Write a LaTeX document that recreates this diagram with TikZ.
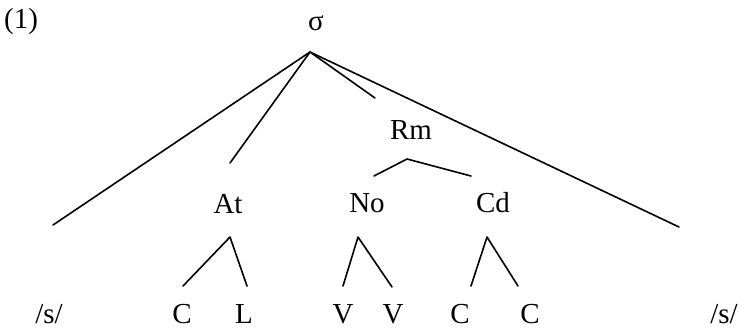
\documentclass[tikz,border=0pt]{standalone}
\usepackage{fontspec}
\setmainfont{Liberation Serif}
\begin{document}
\begin{tikzpicture}[x=1pt,y=-1pt,
  lbl/.style={inner sep=0pt,anchor=base,font=\fontsize{29}{32}\selectfont},
  br/.style={line width=1.6pt,line cap=round,line join=round}]
\useasboundingbox (0,0) rectangle (741,330);
% labels
\node[lbl] (num) at (21,28) {(1)};
\node[lbl] (sigma) at (316,30) {σ};
\node[lbl] (Rm) at (411,139) {Rm};
\node[lbl] (At) at (228,213) {At};
\node[lbl] (No) at (367,212) {No};
\node[lbl] (Cd) at (493,212) {Cd};
\node[lbl] (sL) at (49,323) {/s/};
\node[lbl] (C1) at (182,323) {C};
\node[lbl] (L) at (244,323) {L};
\node[lbl] (V1) at (343,323) {V};
\node[lbl] (V2) at (393,323) {V};
\node[lbl] (C2) at (460,323) {C};
\node[lbl] (C3) at (530,323) {C};
\node[lbl] (sR) at (724,323) {/s/};
% branch points
\coordinate (sa) at (310,52);
\coordinate (eL) at (53,225);
\coordinate (eAt) at (230,163);
\coordinate (eRm) at (375,98);
\coordinate (eR) at (679,227);
\coordinate (ra) at (407,159);
\coordinate (rNo) at (374,176);
\coordinate (rCd) at (471,176);
\coordinate (aa) at (230,237);
\coordinate (aC) at (183,286);
\coordinate (aL) at (247,286);
\coordinate (na) at (358,237);
\coordinate (nV1) at (343,286);
\coordinate (nV2) at (392,287);
\coordinate (ca) at (487,237);
\coordinate (cC1) at (471,286);
\coordinate (cC2) at (518,286);
% connectors
\draw[br] (sa) -- (eL);
\draw[br] (sa) -- (eAt);
\draw[br] (sa) -- (eRm);
\draw[br] (sa) -- (eR);
\draw[br] (rNo) -- (ra) -- (rCd);
\draw[br] (aC) -- (aa) -- (aL);
\draw[br] (nV1) -- (na) -- (nV2);
\draw[br] (cC1) -- (ca) -- (cC2);
\end{tikzpicture}
\end{document}
